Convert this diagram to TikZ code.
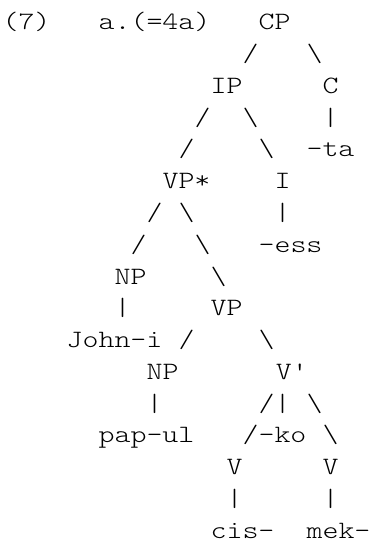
\documentclass[tikz,border=0pt]{standalone}
\usepackage{fontspec}
\newfontfamily\treefont{lmmonolt10-regular}[Extension=.otf,FakeStretch=1.22]

\begin{document}
\begin{tikzpicture}[x=12pt, y=23.8125pt,
    every node/.style={font=\treefont\fontsize{18.7}{22}\selectfont, inner sep=0pt, anchor=base}]
        \useasboundingbox (-0.65625, 0.9449) rectangle (22.594, -16.126);
        \node (ex) at (1, 0) {(7)};
        \node (lab) at (9, 0) {a.(=4a)};
        \node (cp) at (16.5, 0) {CP};
        \node (cp-l) at (15, -1) {/};
        \node (cp-r) at (19, -1) {\textbackslash};
        \node (ip) at (13.5, -2) {IP};
        \node (c) at (20, -2) {C};
        \node (ip-l1) at (12, -3) {/};
        \node (ip-r1) at (15, -3) {\textbackslash};
        \node (c-s) at (20, -3) {\textbar};
        \node (ip-l2) at (11, -4) {/};
        \node (ip-r2) at (16, -4) {\textbackslash};
        \node (ta) at (20, -4) {-ta};
        \node (vps) at (11, -5) {VP*};
        \node (i) at (17, -5) {I};
        \node (vps-l1) at (9, -6) {/};
        \node (vps-r1) at (11, -6) {\textbackslash};
        \node (i-s) at (17, -6) {\textbar};
        \node (vps-l2) at (8, -7) {/};
        \node (vps-r2) at (12, -7) {\textbackslash};
        \node (ess) at (17.5, -7) {-ess};
        \node (np1) at (7.5, -8) {NP};
        \node (vps-r3) at (13, -8) {\textbackslash};
        \node (np1-s) at (7, -9) {\textbar};
        \node (vp) at (13.5, -9) {VP};
        \node (john) at (6.5, -10) {John-i};
        \node (vp-l) at (11, -10) {/};
        \node (vp-r) at (16, -10) {\textbackslash};
        \node (np2) at (9.5, -11) {NP};
        \node (vbar) at (17.5, -11) {V\textquotesingle};
        \node (np2-s) at (9, -12) {\textbar};
        \node (vbar-l1) at (16, -12) {/};
        \node (vbar-m) at (17, -12) {\textbar};
        \node (vbar-r1) at (19, -12) {\textbackslash};
        \node (papul) at (8.5, -13) {pap-ul};
        \node (vbar-l2) at (15, -13) {/};
        \node (ko) at (17, -13) {-ko};
        \node (vbar-r2) at (20, -13) {\textbackslash};
        \node (v1) at (14, -14) {V};
        \node (v2) at (20, -14) {V};
        \node (v1-s) at (14, -15) {\textbar};
        \node (v2-s) at (20, -15) {\textbar};
        \node (cis) at (14.5, -16) {cis-};
        \node (mek) at (20.5, -16) {mek-};
      \end{tikzpicture}
\end{document}
